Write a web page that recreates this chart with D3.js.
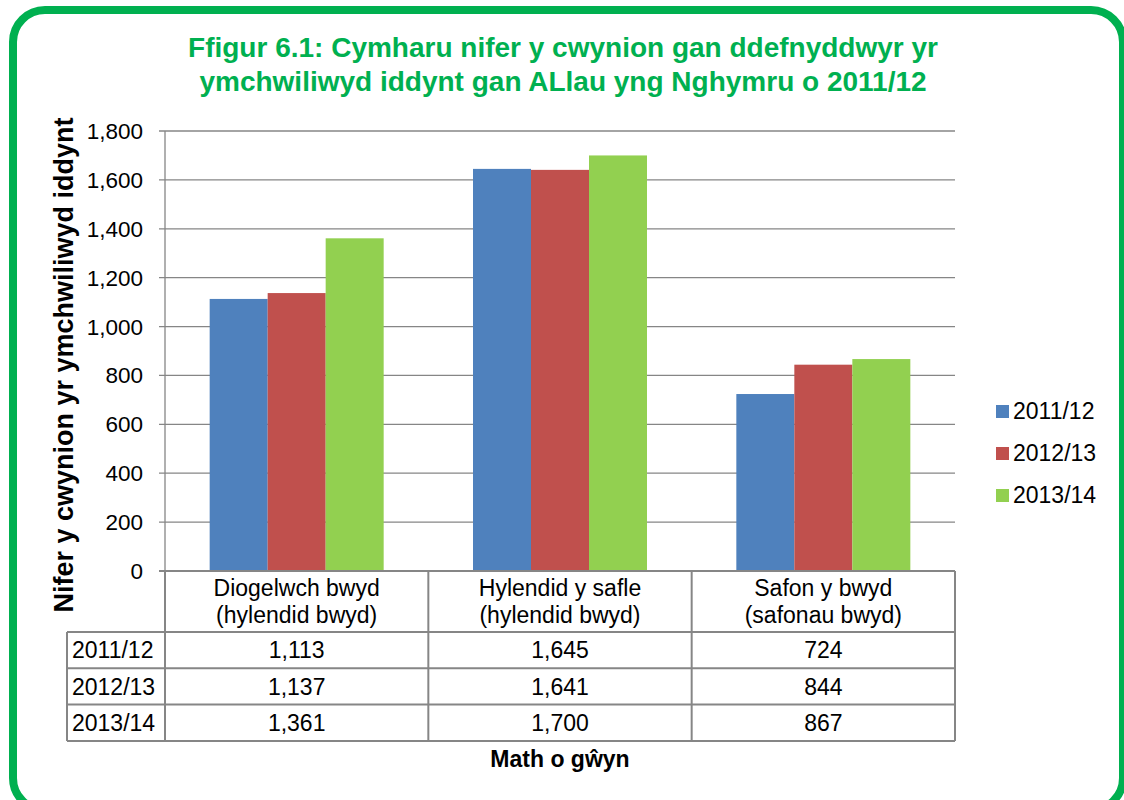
<!DOCTYPE html>
<html><head><meta charset="utf-8">
<script src="https://cdn.jsdelivr.net/npm/d3@7"></script>
<style>body{margin:0;background:#fff;overflow:hidden;} text{font-family:"Liberation Sans",Arial,sans-serif;}</style>
</head><body>
<svg id="c" width="1124" height="800" style="display:block"></svg>
<script>
const categories = [["Diogelwch bwyd","(hylendid bwyd)"],["Hylendid y safle","(hylendid bwyd)"],["Safon y bwyd","(safonau bwyd)"]];
const seriesNames = ["2011/12","2012/13","2013/14"];
const values2011 = [1113,1645,724];
const values2012 = [1137,1641,844];
const values2013 = [1361,1700,867];
const colors = ["#4F81BD","#C0504D","#92D050"];
const yTicks = [0,200,400,600,800,1000,1200,1400,1600,1800];
const titleLines = ["Ffigur 6.1: Cymharu nifer y cwynion gan ddefnyddwyr yr","ymchwiliwyd iddynt gan ALlau yng Nghymru o 2011/12"];
const yTitle = "Nifer y cwynion yr ymchwiliwyd iddynt";
const xTitle = "Math o gŵyn";
const series = [values2011, values2012, values2013];

const svg = d3.select("#c");
svg.append("rect").attr("x",13).attr("y",10).attr("width",1110).attr("height",800)
  .attr("rx",32).attr("fill","none").attr("stroke","#00B050").attr("stroke-width",8);

svg.selectAll(".title").data(titleLines).enter().append("text")
  .attr("x",563).attr("y",(d,i)=>57+i*34).attr("text-anchor","middle")
  .attr("font-size",28).attr("font-weight","bold").attr("fill","#00B050").text(d=>d);

const pL=165,pR=955,pT=131,pB=571;
const x = d3.scaleBand().domain(d3.range(categories.length)).range([pL,pR]);
const y = d3.scaleLinear().domain([0,1800]).range([pB,pT]);
const grid = "#868686";

svg.selectAll(".grid").data(yTicks).enter().append("line")
  .attr("x1",pL-6).attr("x2",pR).attr("y1",d=>y(d)).attr("y2",d=>y(d))
  .attr("stroke",grid).attr("stroke-width",1.3);
svg.append("line").attr("x1",pL).attr("x2",pL).attr("y1",pT).attr("y2",pB).attr("stroke",grid).attr("stroke-width",1.3);
svg.selectAll(".tl").data(yTicks).enter().append("text")
  .attr("x",143).attr("y",d=>y(d)+8).attr("text-anchor","end").attr("font-size",22.5).attr("fill","#000")
  .text(d=>d3.format(",")(d));

const bw = 58, gw = bw*3;
series.forEach((vals,s)=>{
  svg.selectAll(".b"+s).data(vals).enter().append("rect")
    .attr("x",(d,i)=>x(i)+(x.bandwidth()-gw)/2+s*bw).attr("width",bw)
    .attr("y",d=>y(d)).attr("height",d=>pB-y(d)).attr("fill",colors[s]);
});

const tableLeft=67, headerBottom=632, rowH=36.3;
const tg = svg.append("g");
const lineAttr = sel=>sel.attr("stroke",grid).attr("stroke-width",2);
categories.forEach((c,i)=>{
  c.forEach((t,j)=>{
    tg.append("text").attr("x",x(i)+x.bandwidth()/2).attr("y",596+j*27).attr("text-anchor","middle")
      .attr("font-size",23).text(t);
  });
});
lineAttr(tg.append("line").attr("x1",pL-6).attr("x2",pR).attr("y1",pB).attr("y2",pB));
for(let r=0;r<=3;r++){
  lineAttr(tg.append("line").attr("x1",tableLeft).attr("x2",pR).attr("y1",headerBottom+r*rowH).attr("y2",headerBottom+r*rowH));
}
lineAttr(tg.append("line").attr("x1",tableLeft).attr("x2",tableLeft).attr("y1",headerBottom).attr("y2",headerBottom+3*rowH));
[pL, ...categories.map((c,i)=>x(i)+x.bandwidth())].forEach(xx=>{
  lineAttr(tg.append("line").attr("x1",xx).attr("x2",xx).attr("y1",pB).attr("y2",headerBottom+3*rowH));
});
seriesNames.forEach((n,r)=>{
  const cy = headerBottom+r*rowH+rowH/2+8.3;
  tg.append("text").attr("x",tableLeft+5).attr("y",cy).attr("font-size",23).text(n);
  series[r].forEach((v,i)=>{
    tg.append("text").attr("x",x(i)+x.bandwidth()/2).attr("y",cy).attr("text-anchor","middle")
      .attr("font-size",23).text(d3.format(",")(v));
  });
});

svg.append("text").attr("x",560).attr("y",767).attr("text-anchor","middle").attr("font-size",23)
  .attr("font-weight","bold").text(xTitle);
svg.append("text").attr("transform","translate(73,365) rotate(-90)").attr("text-anchor","middle")
  .attr("font-size",27).attr("font-weight","bold").text(yTitle);

seriesNames.forEach((n,i)=>{
  const ly = 411+i*42;
  svg.append("rect").attr("x",996).attr("y",ly-6).attr("width",13).attr("height",13).attr("fill",colors[i]);
  svg.append("text").attr("x",1013).attr("y",ly+8).attr("font-size",23).text(n);
});
</script>
</body></html>
